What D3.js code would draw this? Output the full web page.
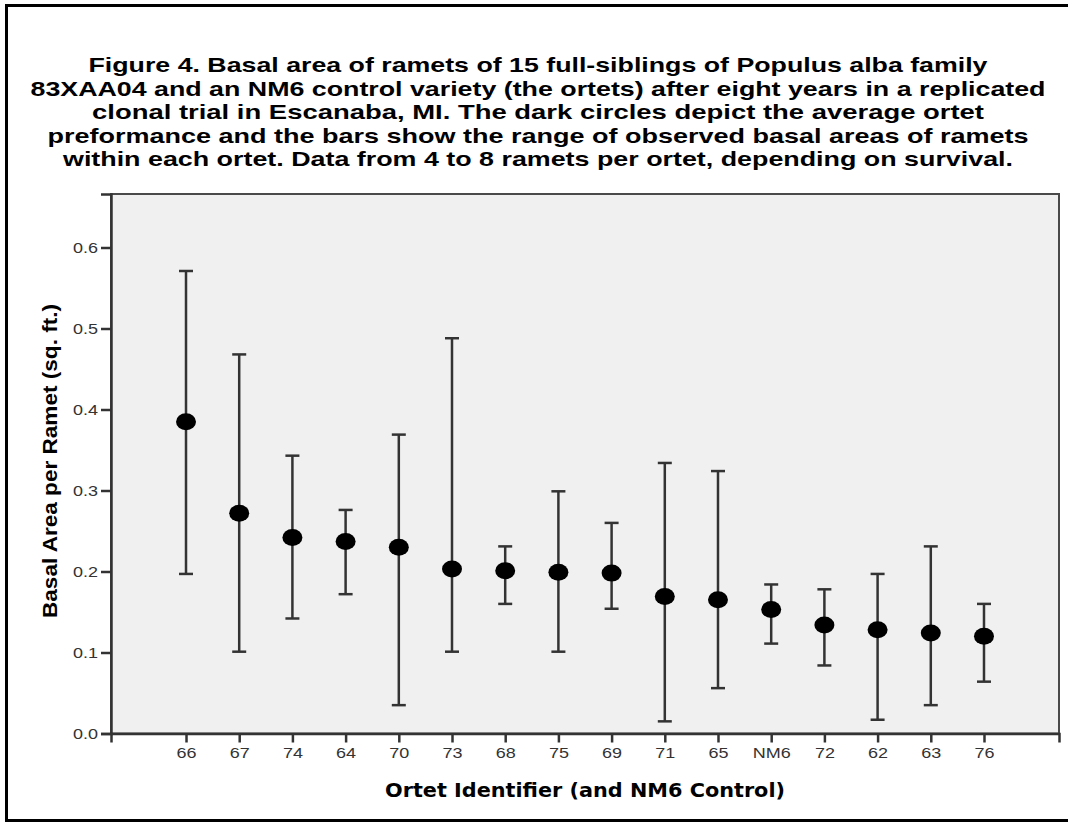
<!DOCTYPE html>
<html>
<head>
<meta charset="utf-8">
<script src="https://cdn.jsdelivr.net/npm/d3@7/dist/d3.min.js"></script>
<style>
  body { margin: 0; background: #fff; }
  svg { display: block; }
</style>
</head>
<body>
<div class="chart"></div>
<script>
// ortets in plotted order, with average and the min / max ramet values
var ortets = ["66", "67", "74", "64", "70", "73", "68", "75", "69", "71", "65", "NM6", "72", "62", "63", "76"];
var means = [0.385, 0.272, 0.242, 0.237, 0.230, 0.203, 0.201, 0.199, 0.198, 0.169, 0.165, 0.153, 0.134, 0.128, 0.124, 0.120];
var lows = [0.197, 0.101, 0.142, 0.172, 0.035, 0.101, 0.160, 0.101, 0.154, 0.015, 0.056, 0.111, 0.084, 0.017, 0.035, 0.064];
var highs = [0.571, 0.468, 0.343, 0.276, 0.369, 0.488, 0.231, 0.299, 0.260, 0.334, 0.324, 0.184, 0.178, 0.197, 0.231, 0.160];
var yTicks = [0, 0.1, 0.2, 0.3, 0.4, 0.5, 0.6];

var titleLines = [
    "Figure 4. Basal area of ramets of 15 full-siblings of Populus alba family",
    "83XAA04 and an NM6 control variety (the ortets) after eight years in a replicated",
    "clonal trial in Escanaba, MI. The dark circles depict the average ortet",
    "preformance and the bars show the range of observed basal areas of ramets",
    "within each ortet. Data from 4 to 8 ramets per ortet, depending on survival."
];
// measured widths of each title line
var titleWidths = [899, 1015, 892, 981, 950];

var width = 1068, height = 824;
var plotLeft = 111, plotRight = 1059, plotTop = 194, plotBottom = 733.5;
// the source picture is a little stretched sideways
var stretch = 1.2;

var svg = d3.select(".chart").append("svg").attr("width", width).attr("height", height);

// outer frame (left, top, bottom only)
svg.append("path")
    .attr("d", "M1068,5.5 H6.5 V820.5 H1068")
    .attr("fill", "none").attr("stroke", "#000").attr("stroke-width", 3);

// title
var title = svg.append("g");
titleLines.forEach(function(line, i) {
    title.append("text")
        .attr("x", 538).attr("y", 72 + i * 23.5)
        .attr("text-anchor", "middle")
        .attr("font-family", "'Liberation Sans', Arial, sans-serif")
        .attr("font-weight", "bold").attr("font-size", "21px")
        .attr("textLength", titleWidths[i]).attr("lengthAdjust", "spacingAndGlyphs")
        .attr("fill", "#000")
        .text(line);
});

var x = d3.scalePoint().domain(ortets).range([plotLeft, plotRight]).padding(1.41);
var y = d3.scaleLinear().domain([0, (plotBottom - plotTop) / 810]).range([plotBottom, plotTop]);

// plot background
svg.append("rect")
    .attr("x", plotLeft).attr("y", plotTop)
    .attr("width", plotRight - plotLeft).attr("height", plotBottom - plotTop)
    .attr("fill", "#f0f0f0").attr("stroke", "#4a4a4a").attr("stroke-width", 2);

// axes
var yAxis = svg.append("g").attr("transform", "translate(" + plotLeft + ",0)")
    .call(d3.axisLeft(y).tickValues(yTicks).tickSize(10).tickPadding(3).tickFormat(d3.format(".1f")));
var xAxis = svg.append("g").attr("transform", "translate(0," + plotBottom + ")")
    .call(d3.axisBottom(x).tickSize(9).tickPadding(5));

[yAxis, xAxis].forEach(function(ax) {
    ax.select(".domain").attr("stroke", "#333").attr("stroke-width", 2.5);
    ax.selectAll(".tick line").attr("stroke", "#333").attr("stroke-width", 2.5);
    ax.selectAll(".tick text")
        .attr("font-family", "'Liberation Sans', Arial, sans-serif")
        .attr("font-size", "15px").attr("fill", "#333")
        .attr("transform", "scale(" + stretch + ",1)");
});
yAxis.selectAll(".tick text").attr("dy", "0.35em").attr("x", -13 / stretch);

// range bars
var bars = svg.append("g");
ortets.forEach(function(o, i) {
    var cx = x(o);
    bars.append("line").attr("x1", cx).attr("x2", cx)
        .attr("y1", y(lows[i])).attr("y2", y(highs[i]))
        .attr("stroke", "#333").attr("stroke-width", 2.5);
    [lows[i], highs[i]].forEach(function(v) {
        bars.append("line").attr("x1", cx - 7).attr("x2", cx + 7)
            .attr("y1", y(v)).attr("y2", y(v))
            .attr("stroke", "#333").attr("stroke-width", 2.5);
    });
    bars.append("ellipse").attr("cx", cx).attr("cy", y(means[i]))
        .attr("rx", 10).attr("ry", 8.5).attr("fill", "#000");
});

// axis titles
svg.append("text")
    .attr("transform", "translate(57,461) rotate(-90)")
    .attr("text-anchor", "middle")
    .attr("font-family", "'Liberation Sans', Arial, sans-serif")
    .attr("font-weight", "bold").attr("font-size", "20px")
    .attr("textLength", 314).attr("lengthAdjust", "spacingAndGlyphs")
    .text("Basal Area per Ramet (sq. ft.)");

svg.append("text")
    .attr("x", 585).attr("y", 797)
    .attr("text-anchor", "middle")
    .attr("font-family", "'DejaVu Sans', Verdana, sans-serif")
    .attr("font-weight", "bold").attr("font-size", "19px")
    .attr("textLength", 400).attr("lengthAdjust", "spacingAndGlyphs")
    .text("Ortet Identifier (and NM6 Control)");
</script>
</body>
</html>
